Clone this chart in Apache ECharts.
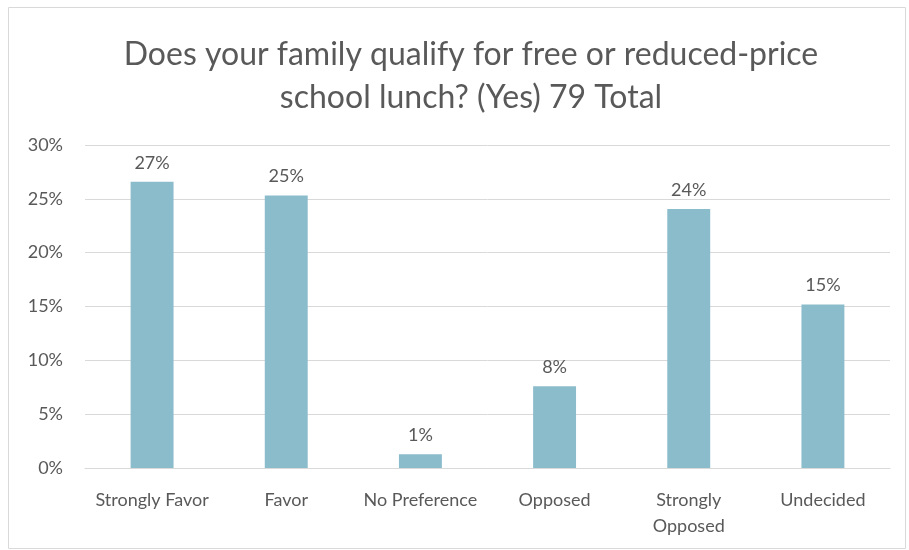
<!DOCTYPE html>
<html><head><meta charset="utf-8">
<script src="https://cdn.jsdelivr.net/npm/echarts@6/dist/echarts.min.js"></script>
<style>html,body{margin:0;padding:0;background:#fff}
#c{width:909px;height:550px}</style></head>
<body><div id="c"></div>
<script>
var categories = ['Strongly Favor', 'Favor', 'No Preference', 'Opposed', 'Strongly\nOpposed', 'Undecided'];
var counts = [21, 20, 1, 6, 19, 12];
var total = 79;
var yTicks = [0, 5, 10, 15, 20, 25, 30];
var values = counts.map(function (c) { return c / total * 100; });

var chart = echarts.init(document.getElementById('c'));
var font = 'Lato, "Open Sans", sans-serif';
chart.setOption({
  animation: false,
  graphic: [{ type: 'rect', shape: { x: 8.5, y: 7.5, width: 897, height: 541 }, style: { fill: 'none', stroke: '#d9d9d9', lineWidth: 1 } }],
  title: {
    text: 'Does your family qualify for free or reduced-price\nschool lunch? (Yes) 79 Total',
    left: 466, textAlign: 'center', top: 28,
    textStyle: { fontFamily: font, fontSize: 32, fontWeight: 'normal', color: '#595959', lineHeight: 43 }
  },
  grid: { left: 85, right: 19, top: 145, bottom: 82, containLabel: false },
  xAxis: {
    type: 'category', data: categories,
    axisLine: { lineStyle: { color: '#d9d9d9' } },
    axisTick: { show: false },
    axisLabel: { color: '#595959', fontFamily: font, fontSize: 18, margin: 19, lineHeight: 26, interval: 0 }
  },
  yAxis: {
    type: 'value', min: 0, max: 30, interval: 5,
    axisLine: { show: false }, axisTick: { show: false },
    splitLine: { lineStyle: { color: '#d9d9d9' } },
    axisLabel: { color: '#595959', fontFamily: font, fontSize: 18, margin: 22, formatter: function (v) { return v + '%'; } }
  },
  series: [{
    type: 'bar', data: values, barWidth: '32%',
    itemStyle: { color: '#8bbccc' },
    label: { show: true, position: 'top', distance: 10, color: '#595959', fontFamily: font, fontSize: 18,
      formatter: function (p) { return Math.round(p.value) + '%'; } }
  }]
});
</script></body></html>
